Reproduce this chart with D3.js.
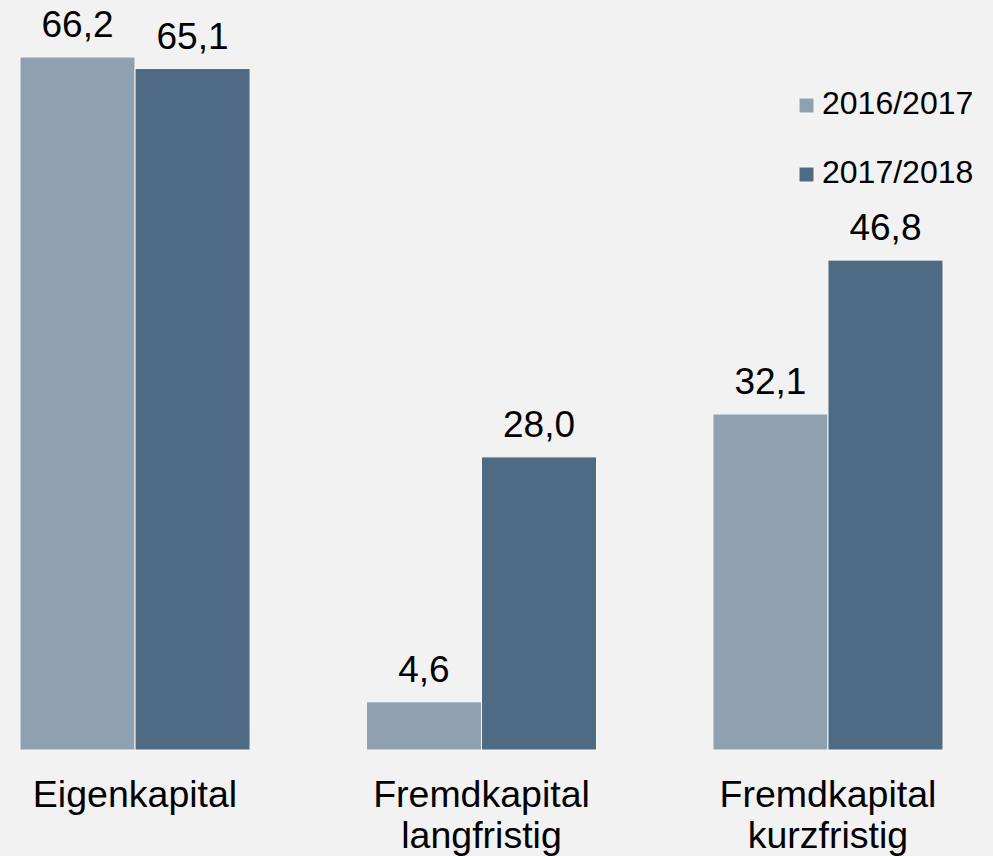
<!DOCTYPE html>
<html>
<head>
	<meta charset="UTF-8" />
	<title>Eigenkapital / Fremdkapital</title>
	<script src="https://d3js.org/d3.v7.min.js"></script>
	<style>
		body { margin: 0; background: #f2f2f2; }
		text { font-family: Arial, "Liberation Sans", sans-serif; fill: #000; }
	</style>
</head>
<body>
	<svg id="chart" width="993" height="856"></svg>

	<script type="text/javascript">
	// data
	const categories = [["Eigenkapital"], ["Fremdkapital", "langfristig"], ["Fremdkapital", "kurzfristig"]]
	const series = ["2016/2017", "2017/2018"]
	const values2016 = [66.2, 4.6, 32.1]
	const values2017 = [65.1, 28.0, 46.8]

	// colors
	const light = "#8fa1b0"
	const dark = "#4f6b84"

	const svg = d3.select("#chart")
	svg.append("rect").attr("width", 993).attr("height", 856).attr("fill", "#f2f2f2")

	const baseY = 750
	const catNames = categories.map(d => d.join(" "))

	const x0 = d3.scaleBand()
		.domain(catNames)
		.range([20, 943])
		.paddingInner(0.336)
		.paddingOuter(0)

	const x1 = d3.scaleBand()
		.domain(series)
		.range([0, x0.bandwidth()])

	const y = d3.scaleLinear()
		.domain([0, 66.2])
		.range([baseY, 57])

	const color = d3.scaleOrdinal().domain(series).range([light, dark])

	const rows = []
	catNames.forEach((c, i) => {
		rows.push({cat: c, s: series[0], v: values2016[i]})
		rows.push({cat: c, s: series[1], v: values2017[i]})
	})

	const fmt = v => d3.format(".1f")(v).replace(".", ",")

	svg.selectAll("rect.bar")
		.data(rows)
		.enter()
		.append("rect")
		.attr("class", "bar")
		.attr("x", d => x0(d.cat) + x1(d.s))
		.attr("y", d => y(d.v))
		.attr("width", x1.bandwidth())
		.attr("height", d => baseY - y(d.v))
		.attr("fill", d => color(d.s))
		.attr("stroke", "#f7f7f7")
		.attr("stroke-width", 1)

	svg.selectAll("text.val")
		.data(rows)
		.enter()
		.append("text")
		.attr("class", "val")
		.attr("x", d => x0(d.cat) + x1(d.s) + x1.bandwidth() / 2)
		.attr("y", d => y(d.v) - 20)
		.attr("text-anchor", "middle")
		.style("font-size", "37px")
		.text(d => fmt(d.v))

	// category labels
	const catG = svg.selectAll("text.cat")
		.data(categories)
		.enter()
		.append("text")
		.attr("class", "cat")
		.attr("text-anchor", "middle")
		.style("font-size", "37.5px")

	catG.selectAll("tspan")
		.data((d, i) => d.map(line => ({line, i})))
		.enter()
		.append("tspan")
		.attr("x", d => x0(catNames[d.i]) + x0.bandwidth() / 2)
		.attr("y", (d, j) => 807 + j * 40.5)
		.text(d => d.line)

	// legend
	const legend = svg.selectAll("g.legend")
		.data(series)
		.enter()
		.append("g")
		.attr("class", "legend")
		.attr("transform", (d, i) => `translate(799, ${98 + i * 69})`)

	legend.append("rect")
		.attr("width", 15)
		.attr("height", 15)
		.attr("fill", d => color(d))
		.attr("stroke", "#f7f7f7")
		.attr("stroke-width", 1)

	legend.append("text")
		.attr("x", 23)
		.attr("y", 16)
		.style("font-size", "32px")
		.text(d => d)
	</script>
</body>
</html>
